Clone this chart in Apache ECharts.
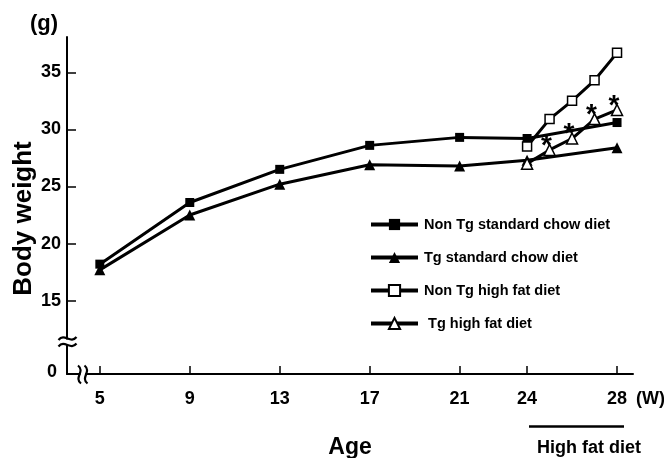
<!DOCTYPE html>
<html>
<head>
<meta charset="utf-8">
<script src="https://cdn.jsdelivr.net/npm/echarts@6/dist/echarts.min.js"></script>
<style>html,body{margin:0;padding:0;background:#fff}#c{width:664px;height:458px}</style>
</head>
<body>
<div id="c"></div>
<script>
// ---- data ----
var weeksStd = [5, 9, 13, 17, 21, 24, 28];
var nonTgStd = [18.2, 23.6, 26.5, 28.6, 29.3, 29.2, 30.6];
var tgStd    = [17.7, 22.5, 25.2, 26.9, 26.8, 27.3, 28.4];
var weeksHF  = [24, 25, 26, 27, 28];
var nonTgHF  = [28.5, 30.9, 32.5, 34.3, 36.7];
var tgHF     = [27.0, 28.2, 29.2, 30.9, 31.7];
var sigHF    = ['', '*', '*', '*', '*'];
var xTicks   = [5, 9, 13, 17, 21, 24, 28];
var yTicks   = [15, 20, 25, 30, 35];
var seriesNames = ['Non Tg standard chow diet', 'Tg standard chow diet', 'Non Tg high fat diet', ' Tg high fat diet'];

var Y_MIN = 8.58, Y_MAX = 38.09, X_MIN = 3.54, X_MAX = 28.71;
var FONT = 'Liberation Sans, Arial, sans-serif';

function pairs(xs, ys) { return xs.map(function (x, i) { return [x, ys[i]]; }); }

// tilde-like strokes for the axis-break glyphs (decoration only)
function hWave(cx, cy, w) {
  var h = w / 2;
  return {type: 'bezierCurve', z: 101,
    shape: {x1: cx - h, y1: cy + 1.5, cpx1: cx - h / 3, cpy1: cy - 6, cpx2: cx + h / 3, cpy2: cy + 6, x2: cx + h, y2: cy - 1.5},
    style: {stroke: '#000', lineWidth: 2.2, fill: null}};
}
function vWave(cx, cy, w) {
  var h = w / 2;
  return {type: 'bezierCurve', z: 101,
    shape: {x1: cx - 1.5, y1: cy - h, cpx1: cx + 6, cpy1: cy - h / 3, cpx2: cx - 6, cpy2: cy + h / 3, x2: cx + 1.5, y2: cy + h},
    style: {stroke: '#000', lineWidth: 2.2, fill: null}};
}

var chart = echarts.init(document.getElementById('c'), null, {renderer: 'canvas'});
var lineStyle = {color: '#000', width: 3};
var option = {
  animation: false,
  backgroundColor: '#fff',
  grid: {left: 67, right: 31, top: 37, bottom: 84, containLabel: false, outerBoundsMode: 'none'},
  xAxis: {
    type: 'value', min: X_MIN, max: X_MAX,
    name: 'Age', nameLocation: 'middle', nameGap: 62, nameMoveOverlap: false,
    nameTextStyle: {fontFamily: FONT, fontWeight: 'bold', fontSize: 23, color: '#000'},
    axisLine: {show: true, lineStyle: {color: '#000', width: 2}},
    axisTick: {show: true, inside: true, length: 8, customValues: xTicks, lineStyle: {color: '#000', width: 1.5}},
    axisLabel: {customValues: xTicks, margin: 16, fontFamily: FONT, fontWeight: 'bold', fontSize: 18, color: '#000'},
    splitLine: {show: false}
  },
  yAxis: {
    type: 'value', min: Y_MIN, max: Y_MAX,
    name: 'Body weight', nameLocation: 'middle', nameGap: 30, nameRotate: 90, nameMoveOverlap: false,
    nameTextStyle: {fontFamily: FONT, fontWeight: 'bold', fontSize: 26, color: '#000', padding: [0, 26, 0, 0]},
    axisLine: {show: true, lineStyle: {color: '#000', width: 2}},
    axisTick: {show: true, inside: true, length: 9, customValues: yTicks, lineStyle: {color: '#000', width: 1.5}},
    axisLabel: {
      customValues: [Y_MIN].concat(yTicks), margin: 6,
      fontFamily: FONT, fontWeight: 'bold', fontSize: 18, color: '#000',
      formatter: function (v) { return v < 10 ? '{z|0}' : String(v); },
      rich: {z: {fontFamily: FONT, fontWeight: 'bold', fontSize: 18, color: '#000', padding: [0, 4, 3, 0]}}
    },
    splitLine: {show: false}
  },
  legend: {
    orient: 'vertical', left: 364, top: 212,
    itemWidth: 47, itemHeight: 14, itemGap: 18,
    data: seriesNames,
    lineStyle: {width: 4},
    textStyle: {fontFamily: FONT, fontWeight: 'bold', fontSize: 14.5, color: '#000', padding: [0, 0, 0, 1]}
  },
  graphic: [
    {type: 'text', left: 30, top: 13, style: {text: '(g)', font: 'bold 22px ' + FONT, fill: '#000'}},
    {type: 'text', left: 636, top: 390, style: {text: '(W)', font: 'bold 18px ' + FONT, fill: '#000'}},
    {type: 'line', shape: {x1: 529, y1: 426.5, x2: 624, y2: 426.5}, style: {stroke: '#000', lineWidth: 2.5}},
    {type: 'text', x: 589, y: 448, style: {text: 'High fat diet', font: 'bold 18px ' + FONT, fill: '#000', align: 'center', verticalAlign: 'middle'}},
    // y-axis break
    {type: 'rect', z: 100, shape: {x: 64, y: 339.5, width: 7, height: 5}, style: {fill: '#fff'}},
    hWave(67.5, 338.5, 18),
    hWave(67.5, 345, 18),
    // x-axis break
    {type: 'rect', z: 100, shape: {x: 80.5, y: 371, width: 5, height: 6}, style: {fill: '#fff'}},
    vWave(79.5, 374.5, 18),
    vWave(86, 374.5, 18)
  ],
  series: [
    {name: seriesNames[0], type: 'line', data: pairs(weeksStd, nonTgStd), symbol: 'rect', symbolSize: 9,
      lineStyle: lineStyle, itemStyle: {color: '#000'}, z: 2},
    {name: seriesNames[1], type: 'line', data: pairs(weeksStd, tgStd), symbol: 'triangle', symbolSize: 11,
      lineStyle: lineStyle, itemStyle: {color: '#000'}, z: 2},
    {name: seriesNames[2], type: 'line', data: pairs(weeksHF, nonTgHF), symbol: 'rect', symbolSize: 9,
      lineStyle: lineStyle, itemStyle: {color: '#fff', borderColor: '#000', borderWidth: 1.5}, z: 3},
    {name: seriesNames[3], type: 'line', data: pairs(weeksHF, tgHF), symbol: 'triangle', symbolSize: 11,
      lineStyle: lineStyle, itemStyle: {color: '#fff', borderColor: '#000', borderWidth: 1.5}, z: 4,
      label: {show: true, position: 'inside', offset: [-3, -4],
        formatter: function (p) { return sigHF[p.dataIndex]; },
        fontFamily: FONT, fontWeight: 'bold', fontSize: 28, color: '#000', verticalAlign: 'middle'}}
  ]
};
chart.setOption(option);
</script>
</body>
</html>
